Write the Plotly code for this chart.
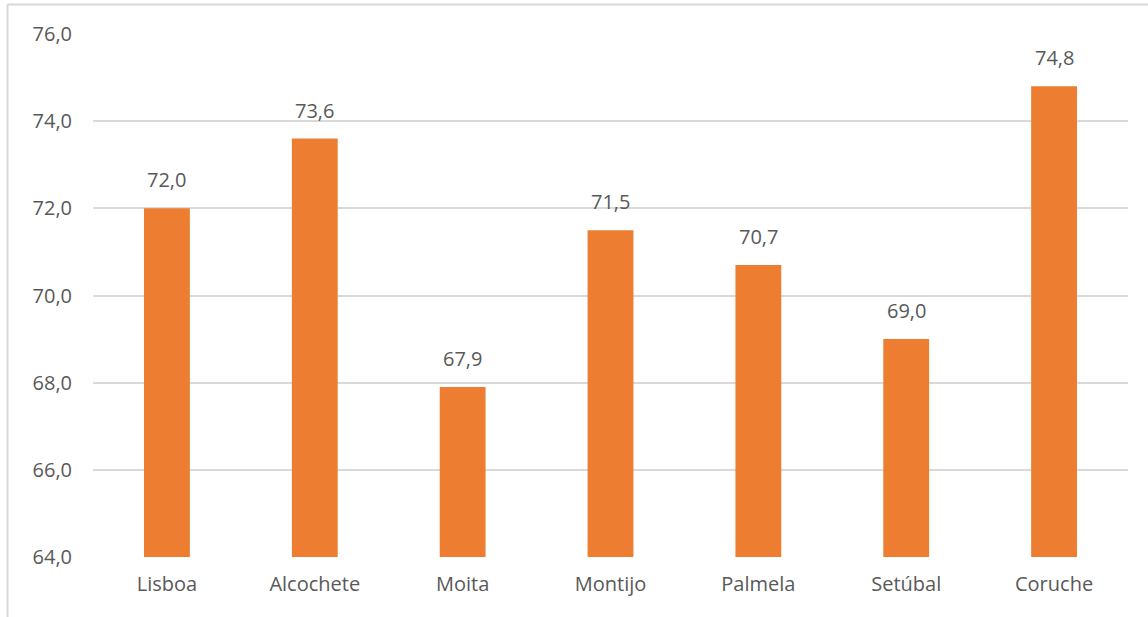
import plotly.graph_objects as go

# Valores por concelho
concelhos = ["Lisboa", "Alcochete", "Moita", "Montijo", "Palmela", "Setúbal", "Coruche"]
valores = [72.0, 73.6, 67.9, 71.5, 70.7, 69.0, 74.8]
y_ticks = [64, 66, 68, 70, 72, 74, 76]
y_tick_labels = ["64,0", "66,0", "68,0", "70,0", "72,0", "74,0", "76,0"]

W, H = 1148, 617
ML, MR, MT, MB = 93, 20, 34, 60
pw = W - ML - MR
ph = H - MT - MB

def px_x(x):
    return (x - ML) / pw

def px_y(y):
    return (H - MB - y) / ph

FONT = "Open Sans"
TXT = "#595959"
FS = 20

fig = go.Figure()
fig.add_trace(go.Bar(
    x=concelhos,
    y=valores,
    marker=dict(color="#ED7D31", line=dict(width=0)),
    width=0.31,
    hoverinfo="x+y",
))

# Rótulos de valor acima de cada barra
for c, v in zip(concelhos, valores):
    fig.add_annotation(
        x=c, y=v, xref="x", yref="y",
        text=f"{v:.1f}".replace(".", ","),
        showarrow=False, yanchor="bottom", yshift=13,
        font=dict(family=FONT, size=FS, color=TXT),
    )

# Moldura do gráfico (esquerda e topo)
fig.add_shape(type="line", xref="paper", yref="paper",
              x0=px_x(7.5), x1=px_x(W + 2), y0=px_y(4.5), y1=px_y(4.5),
              line=dict(color="#D9D9D9", width=2))
fig.add_shape(type="line", xref="paper", yref="paper",
              x0=px_x(7.5), x1=px_x(7.5), y0=px_y(4.5), y1=px_y(H + 2),
              line=dict(color="#D9D9D9", width=2))

fig.update_layout(
    width=W, height=H,
    margin=dict(l=ML, r=MR, t=MT, b=MB),
    paper_bgcolor="white",
    plot_bgcolor="white",
    showlegend=False,
    font=dict(family=FONT, size=FS, color=TXT),
)
fig.update_xaxes(
    showline=False, showgrid=False, zeroline=False,
    ticks="", tickfont=dict(family=FONT, size=FS, color=TXT),
    ticklabelstandoff=13,
)
fig.update_yaxes(
    range=[64, 76],
    tickvals=y_ticks, ticktext=y_tick_labels,
    showgrid=True, gridcolor="#D9D9D9", gridwidth=1.5,
    zeroline=False, showline=False, ticks="",
    tickfont=dict(family=FONT, size=FS, color=TXT),
    ticklabelstandoff=20,
)

fig.write_html("out.html")
